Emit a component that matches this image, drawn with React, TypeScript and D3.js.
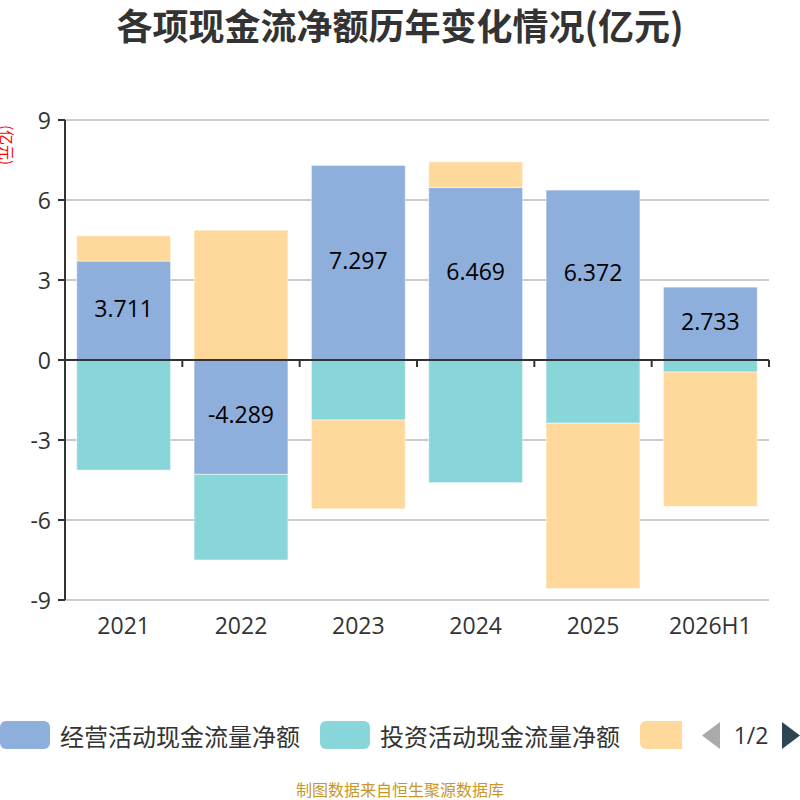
import * as d3 from "d3";
import React from "react";

const categories = ["2021", "2022", "2023", "2024", "2025", "2026H1"];
const operating = [3.711, -4.289, 7.297, 6.469, 6.372, 2.733];
const investing = [-4.13, -3.21, -2.25, -4.6, -2.37, -0.45];
const financing = [0.95, 4.87, -3.33, 0.96, -6.2, -5.04];
const seriesNames = ["经营活动现金流量净额", "投资活动现金流量净额", "筹资活动现金流量净额"];
const yTicks = [-9, -6, -3, 0, 3, 6, 9];

const colors = ["#8eaedb", "#88d6d9", "#fed99b"];
const font = "'Noto Sans CJK SC', 'Noto Sans', sans-serif";
const numFont = "'Open Sans', 'Noto Sans', sans-serif";

export default function App() {
  const W = 800;
  const H = 800;
  const m = { top: 120, right: 31, bottom: 200, left: 65 };

  const x = d3
    .scaleBand<string>()
    .domain(categories)
    .range([m.left, W - m.right])
    .paddingInner(0.2)
    .paddingOuter(0.1);

  const y = d3.scaleLinear().domain([-9, 9]).range([H - m.bottom, m.top]);

  // ECharts-style stacking: positives on positives, negatives on negatives
  const allSeries = [operating, investing, financing];
  const segments: { i: number; s: number; y0: number; y1: number; v: number }[] = [];
  categories.forEach((_, i) => {
    let pos = 0;
    let neg = 0;
    allSeries.forEach((vals, s) => {
      const v = vals[i];
      if (v >= 0) {
        segments.push({ i, s, y0: pos, y1: pos + v, v });
        pos += v;
      } else {
        segments.push({ i, s, y0: neg, y1: neg + v, v });
        neg += v;
      }
    });
  });

  const step = x.step();
  const bounds = d3.range(categories.length + 1).map((k) => m.left + k * step);

  return (
    <svg width={W} height={H} style={{ position: "absolute", left: 0, top: 0, display: "block" }}>
      <rect width={W} height={H} fill="#fff" />
      <text
        x={400}
        y={40}
        textAnchor="middle"
        fontFamily={font}
        fontWeight="bold"
        fontSize={36}
        fill="#333"
      >
        各项现金流净额历年变化情况(亿元)
      </text>

      {/* y name */}
      <text
        transform={`translate(5, 145) rotate(90)`}
        textAnchor="middle"
        dominantBaseline="middle"
        fontFamily={font}
        fontSize={15}
        fill="#ff0000"
      >
        (亿元)
      </text>

      {/* grid */}
      {yTicks.map((t) => (
        <g key={t}>
          {t !== 0 && (
            <line x1={m.left} x2={W - m.right} y1={y(t)} y2={y(t)} stroke="#cccccc" strokeWidth={2} />
          )}
          <line x1={m.left - 7} x2={m.left} y1={y(t)} y2={y(t)} stroke="#333" strokeWidth={2} />
          <text
            x={m.left - 14}
            y={y(t)}
            textAnchor="end"
            dominantBaseline="central"
            fontFamily={numFont}
            fontSize={23}
            fill="#333"
          >
            {t}
          </text>
        </g>
      ))}

      {/* bars */}
      {segments.map((d) => (
        <rect
          key={`${d.i}-${d.s}`}
          x={x(categories[d.i])}
          y={y(Math.max(d.y0, d.y1))}
          width={x.bandwidth()}
          height={Math.abs(y(d.y0) - y(d.y1))}
          fill={colors[d.s]}
          stroke="#fff"
          strokeOpacity={0.5}
          strokeWidth={1}
        />
      ))}

      {/* labels for operating */}
      {operating.map((v, i) => (
        <text
          key={`l-${i}`}
          x={x(categories[i])! + x.bandwidth() / 2}
          y={(y(0) + y(v)) / 2 - 3}
          textAnchor="middle"
          dominantBaseline="central"
          fontFamily={numFont}
          fontSize={23}
          fill="#000"
        >
          {v}
        </text>
      ))}

      {/* axes */}
      <line x1={m.left} x2={m.left} y1={m.top} y2={H - m.bottom} stroke="#333" strokeWidth={2} />
      <line x1={m.left} x2={W - m.right} y1={y(0)} y2={y(0)} stroke="#333" strokeWidth={2} />
      {bounds.slice(1).map((b, k) => (
        <line key={k} x1={b} x2={b} y1={y(0)} y2={y(0) + 7} stroke="#333" strokeWidth={2} />
      ))}

      {categories.map((c) => (
        <text
          key={c}
          x={x(c)! + x.bandwidth() / 2}
          y={634}
          textAnchor="middle"
          fontFamily={numFont}
          fontSize={23}
          fill="#333"
        >
          {c}
        </text>
      ))}

      {/* legend (page 1 of 2: third name is pushed off the page) */}
      <defs>
        <clipPath id="legclip">
          <rect x={0} y={700} width={682} height={70} />
        </clipPath>
      </defs>
      <g clipPath="url(#legclip)" fontFamily={font} fontSize={24} fill="#333">
        {[0, 320, 640].map((lx, s) => (
          <g key={s}>
            <rect x={lx} y={721} width={50} height={28} rx={6} fill={colors[s]} />
            {s < 2 && (
              <text x={lx + 60} y={735} dominantBaseline="central">
                {seriesNames[s]}
              </text>
            )}
          </g>
        ))}
      </g>
      <path d="M720,722 L702,735.5 L720,749 Z" fill="#aaaaaa" />
      <text x={751} y={735} textAnchor="middle" dominantBaseline="central" fontFamily={numFont} fontSize={23} fill="#333">
        1/2
      </text>
      <path d="M782,722 L800,735.5 L782,749 Z" fill="#2f4554" />

      <text x={400} y={796} textAnchor="middle" fontFamily={font} fontSize={16} fill="#c9962b">
        制图数据来自恒生聚源数据库
      </text>
    </svg>
  );
}
